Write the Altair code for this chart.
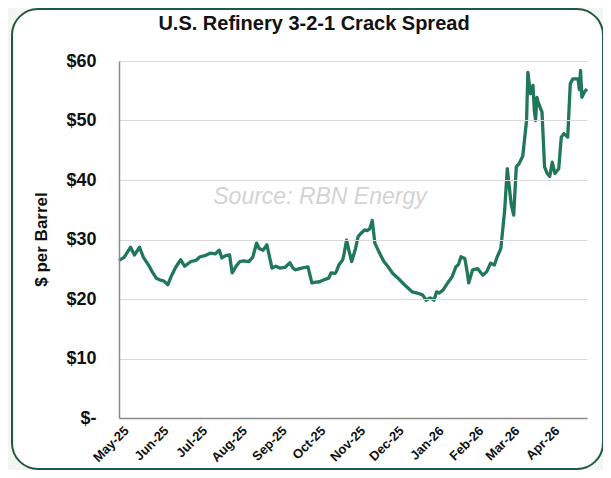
import altair as alt
import pandas as pd

# ---- data ----
dates = [
    "2025-05-01", "2025-05-05", "2025-05-10", "2025-05-13", "2025-05-17", "2025-05-20",
    "2025-05-24", "2025-05-27", "2025-05-30", "2025-06-02", "2025-06-05", "2025-06-08",
    "2025-06-11", "2025-06-14", "2025-06-18", "2025-06-21", "2025-06-26", "2025-06-30",
    "2025-07-03", "2025-07-07", "2025-07-11", "2025-07-15", "2025-07-18", "2025-07-20",
    "2025-07-23", "2025-07-26", "2025-07-28", "2025-07-31", "2025-08-03", "2025-08-06",
    "2025-08-10", "2025-08-13", "2025-08-16", "2025-08-18", "2025-08-21", "2025-08-24",
    "2025-08-28", "2025-08-31", "2025-09-03", "2025-09-07", "2025-09-11", "2025-09-13",
    "2025-09-15", "2025-09-20", "2025-09-25", "2025-09-28", "2025-09-30", "2025-10-04",
    "2025-10-07", "2025-10-11", "2025-10-13", "2025-10-16", "2025-10-17", "2025-10-19",
    "2025-10-22", "2025-10-23", "2025-10-25", "2025-10-27", "2025-10-29", "2025-11-01",
    "2025-11-03", "2025-11-05", "2025-11-08", "2025-11-10", "2025-11-12", "2025-11-14",
    "2025-11-16", "2025-11-19", "2025-11-23", "2025-11-26", "2025-11-30", "2025-12-04",
    "2025-12-09", "2025-12-12", "2025-12-15", "2025-12-19", "2025-12-23", "2025-12-26",
    "2025-12-29", "2026-01-01", "2026-01-03", "2026-01-05", "2026-01-08", "2026-01-11",
    "2026-01-15", "2026-01-18", "2026-01-20", "2026-01-22", "2026-01-25", "2026-01-27",
    "2026-01-28", "2026-01-31", "2026-02-04", "2026-02-08", "2026-02-11", "2026-02-14",
    "2026-02-17", "2026-02-19", "2026-02-22", "2026-02-25", "2026-02-27", "2026-03-02",
    "2026-03-04", "2026-03-06", "2026-03-08", "2026-03-11", "2026-03-14", "2026-03-15",
    "2026-03-17", "2026-03-19", "2026-03-20", "2026-03-21", "2026-03-22", "2026-03-23",
    "2026-03-26", "2026-03-28", "2026-03-30", "2026-04-01", "2026-04-03", "2026-04-05",
    "2026-04-08", "2026-04-10", "2026-04-12", "2026-04-15", "2026-04-17", "2026-04-19",
    "2026-04-23", "2026-04-24", "2026-04-25", "2026-04-26", "2026-04-28", "2026-04-30",
]
crack_spread = [
    26.5, 27.0, 28.7, 27.4, 28.7, 27.0,
    25.7, 24.5, 23.5, 23.2, 23.0, 22.4,
    24.0, 25.3, 26.6, 25.5, 26.3, 26.5,
    27.1, 27.3, 27.7, 27.6, 28.2, 26.9,
    27.3, 27.4, 24.4, 25.5, 26.3, 26.4,
    26.3, 27.0, 29.4, 28.5, 28.2, 29.1,
    25.2, 25.5, 25.2, 25.3, 26.1, 25.3,
    24.9, 25.2, 25.4, 22.7, 22.8, 22.9,
    23.2, 23.5, 24.4, 24.3, 24.6, 25.7,
    26.6, 27.5, 29.9, 28.0, 26.3, 28.5,
    30.5, 31.0, 31.6, 31.5, 31.8, 33.2,
    29.4, 28.0, 26.3, 25.5, 24.3, 23.5,
    22.4, 21.8, 21.2, 21.0, 20.7, 19.8,
    20.2, 19.8, 21.2, 21.0, 21.5, 22.5,
    23.7, 25.4, 25.8, 27.1, 26.8, 24.3,
    22.7, 24.9, 25.1, 24.0, 24.6, 26.0,
    25.7, 27.0, 28.5, 35.0, 41.9, 36.0,
    34.1, 42.2, 42.7, 44.0, 50.0, 58.1,
    54.5, 55.9, 51.7, 50.0, 53.9, 53.1,
    51.4, 42.2, 41.1, 40.6, 43.0, 41.1,
    41.9, 47.2, 47.8, 47.2, 56.2, 57.0,
    57.0, 55.2, 58.4, 53.9, 54.8, 55.3,
]
y_ticks = [0, 10, 20, 30, 40, 50, 60]
title_text = "U.S. Refinery 3-2-1 Crack Spread"
y_title = "$ per Barrel"
watermark = "Source: RBN Energy"

df = pd.DataFrame({"date": dates, "value": crack_spread})

FONT = "Liberation Sans"
LINE_COLOR = "#21775a"

x_enc = alt.X(
    "date:T",
    scale=alt.Scale(
        type="utc",
        domain=[
            alt.DateTime(year=2025, month=5, date=1, utc=True),
            alt.DateTime(year=2026, month=4, date=30, utc=True),
        ],
        nice=False,
    ),
    axis=alt.Axis(
        title=None,
        labelExpr="utcFormat(datum.value, '%b-%y')",
        tickCount={"interval": "month", "step": 1},
        labelAngle=315,
        labelFont=FONT,
        labelFontSize=13,
        labelFontWeight="bold",
        labelColor="#111111",
        labelPadding=6,
        labelOffset=3,
        labelOverlap=False,
        labelFlush=False,
        ticks=False,
        grid=False,
        domainColor="#8a8a8a",
        domainWidth=1.5,
        zindex=1,
    ),
)

y_enc = alt.Y(
    "value:Q",
    scale=alt.Scale(domain=[0, 60], nice=False),
    axis=alt.Axis(
        values=y_ticks,
        labelExpr="datum.value == 0 ? '$-' : '$' + datum.value",
        labelFont=FONT,
        labelFontSize=18,
        labelFontWeight="bold",
        labelColor="#111111",
        labelPadding=23,
        ticks=False,
        tickSize=0,
        grid=True,
        gridColor="#d9d9d9",
        gridWidth=1,
        domainColor="#8a8a8a",
        domainWidth=1.5,
        title=y_title,
        titleFont=FONT,
        titleFontSize=17,
        titleFontWeight="bold",
        titleColor="#111111",
        titleAngle=270,
        titleAlign="center",
        titleBaseline="middle",
        titleX=-78,
        titleY=178,
        zindex=1,
    ),
)

frame = alt.Chart(pd.DataFrame({"k": [0]})).mark_rect(
    fill="white", stroke="#1f5a3e", strokeWidth=2, cornerRadius=26
).encode(
    x=alt.value(-107), x2=alt.value(484), y=alt.value(-52), y2=alt.value(408)
)

mark_text = alt.Chart(pd.DataFrame({"t": [watermark]})).mark_text(
    font=FONT, fontSize=23, fontStyle="italic", color="#d3d3d3",
    align="center", baseline="middle",
).encode(text="t:N", x=alt.value(201), y=alt.value(136))

line = alt.Chart(df).mark_line(
    color=LINE_COLOR, strokeWidth=3.3, strokeJoin="round"
).encode(x=x_enc, y=y_enc)

chart = alt.layer(frame, mark_text, line).properties(
    width=468,
    height=357,
    title=alt.TitleParams(
        title_text,
        font=FONT,
        fontSize=20,
        fontWeight="bold",
        color="#111111",
        anchor="middle",
        dx=-39,
        dy=48,
        offset=22,
        zindex=1,
    ),
    autosize=alt.AutoSizeParams(type="none"),
    padding={"left": 111, "top": 53, "right": 16, "bottom": 52},
).configure(background="#f3f5f3").configure_view(stroke=None)

chart.save("out.html", embed_options={"renderer": "svg", "actions": False})
